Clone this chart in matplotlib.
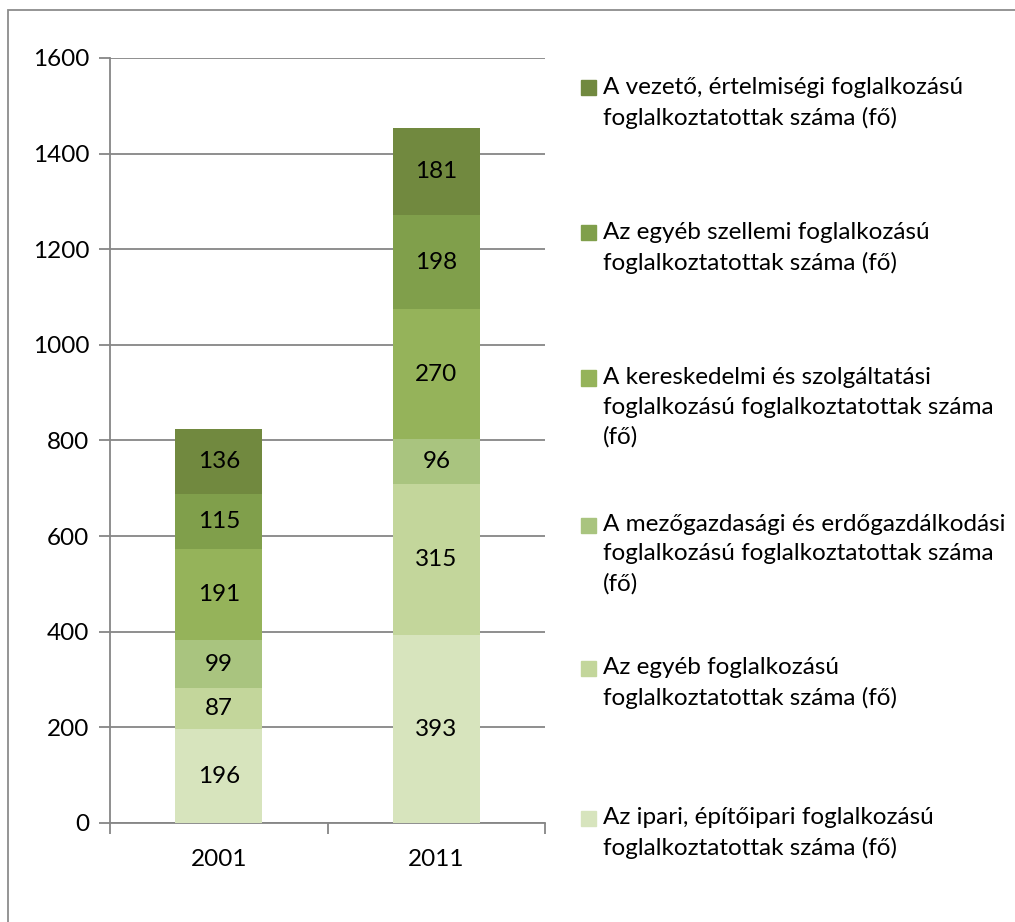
import matplotlib
matplotlib.use('Agg')
import matplotlib.pyplot as plt
from matplotlib.patches import Rectangle
import numpy as np

plt.rcParams['font.family'] = ['Lato', 'DejaVu Sans']

evek = ['2001', '2011']
# alulrol felfele
sorozatok = [
    'Az ipari, építőipari foglalkozású\nfoglalkoztatottak száma (fő)',
    'Az egyéb foglalkozású\nfoglalkoztatottak száma (fő)',
    'A mezőgazdasági és erdőgazdálkodási\nfoglalkozású foglalkoztatottak száma\n(fő)',
    'A kereskedelmi és szolgáltatási\nfoglalkozású foglalkoztatottak száma\n(fő)',
    'Az egyéb szellemi foglalkozású\nfoglalkoztatottak száma (fő)',
    'A vezető, értelmiségi foglalkozású\nfoglalkoztatottak száma (fő)',
]
ipari = [196, 393]
egyeb = [87, 315]
mezogazdasagi = [99, 96]
kereskedelmi = [191, 270]
szellemi = [115, 198]
vezeto = [136, 181]
ertekek = [ipari, egyeb, mezogazdasagi, kereskedelmi, szellemi, vezeto]
szinek = ['#D7E4BD', '#C3D69B', '#A9C47F', '#95B35A', '#809F4B', '#71893F']

BETU = 17.5

fig = plt.figure(figsize=(10.15, 9.22), dpi=100)
ax = fig.add_axes([0.1084, 0.1074, 0.4286, 0.8297])

# kulso keret
fig.patches.append(Rectangle((8 / 1015, -0.1), 1.2, 1 - 10 / 922 + 0.1,
                             transform=fig.transFigure, fill=False,
                             edgecolor='#8C8C8C', linewidth=1.3))

x = np.arange(len(evek))
alap = np.zeros(len(evek))
for ert, szin in zip(ertekek, szinek):
    ax.bar(x, ert, 0.4, bottom=alap, color=szin, zorder=3)
    for xi, b, v in zip(x, alap, ert):
        ax.text(xi, b + v / 2, str(v), ha='center', va='center', fontsize=BETU, zorder=4)
    alap += np.array(ert)

ax.set_xlim(-0.5, 1.5)
ax.set_ylim(0, 1600)
ax.set_yticks(range(0, 1601, 200))
ax.grid(True, axis='y', color='#868686', linewidth=1.3, zorder=0)
ax.set_xticks([-0.5, 0.5, 1.5])
ax.set_xticklabels([])
ax.set_xticks(x, minor=True)
ax.set_xticklabels(evek, minor=True)
ax.tick_params(axis='x', which='minor', length=0, pad=19, labelsize=BETU)
ax.tick_params(axis='x', which='major', length=8, width=1.3, color='#868686')
ax.tick_params(axis='y', length=8, width=1.3, color='#868686', pad=7, labelsize=BETU)
for s in ['top', 'right']:
    ax.spines[s].set_visible(False)
for s in ['left', 'bottom']:
    ax.spines[s].set_color('#868686')
    ax.spines[s].set_linewidth(1.3)

# jelmagyarazat, felulrol lefele
legend_y = [88, 233, 378, 525, 668, 818]
for felirat, szin, y in zip(sorozatok[::-1], szinek[::-1], legend_y):
    fy = 1 - y / 922
    fig.patches.append(Rectangle((581 / 1015, fy - 7.5 / 922), 15 / 1015, 15 / 922,
                                 transform=fig.transFigure, color=szin))
    fig.text(603 / 1015, fy + 11 / 922, felirat, ha='left', va='top',
             fontsize=BETU, linespacing=1.5)

plt.savefig('out.png', dpi=100)
plt.close()
